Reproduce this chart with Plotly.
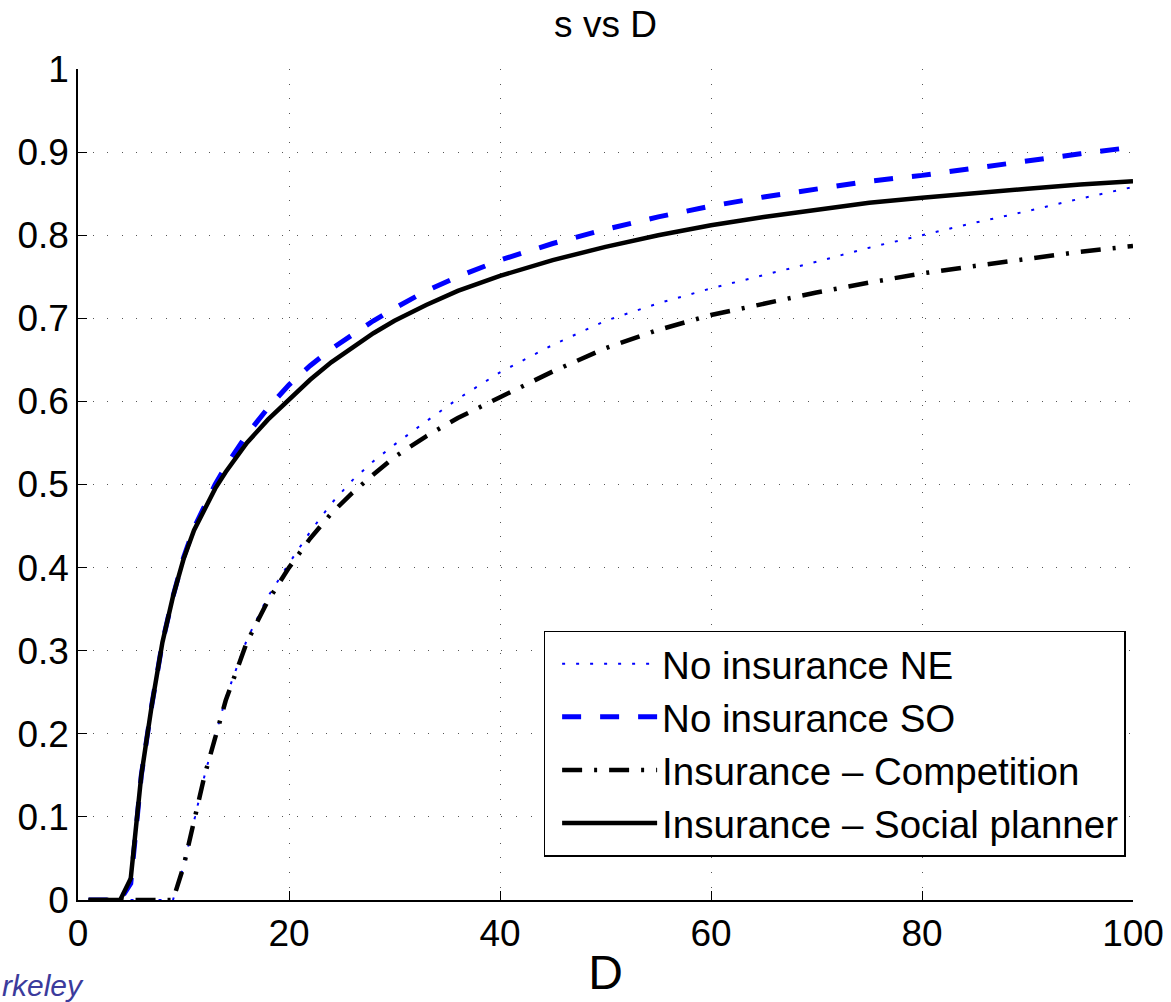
import plotly.graph_objects as go

# ---- data ----
D = [1, 2, 3, 4, 5, 6, 7, 8, 9, 10, 11, 12, 13, 14, 16, 18, 20, 22, 24, 26, 28, 30,
     33, 36, 40, 45, 50, 55, 60, 65, 70, 75, 80, 85, 90, 95, 100]

no_ins_ne = [0, 0, 0, 0, 0, 0, 0, 0, 0, 0.04, 0.095, 0.15, 0.197, 0.243, 0.313, 0.365,
             0.405, 0.443, 0.477, 0.505, 0.528, 0.548, 0.576, 0.603, 0.635, 0.668,
             0.697, 0.718, 0.736, 0.752, 0.768, 0.785, 0.800, 0.815, 0.829, 0.844, 0.858]

no_ins_so = [0, 0, 0, 0, 0.02, 0.15, 0.235, 0.31, 0.365, 0.412, 0.448, 0.475, 0.50,
             0.522, 0.56, 0.592, 0.62, 0.643, 0.663, 0.68, 0.697, 0.712, 0.733, 0.75,
             0.77, 0.79, 0.807, 0.822, 0.835, 0.846, 0.856, 0.865, 0.872, 0.881, 0.89,
             0.898, 0.906]

ins_comp = [0, 0, 0, 0, 0, 0, 0, 0, 0, 0.04, 0.095, 0.15, 0.195, 0.24, 0.31, 0.36,
            0.40, 0.435, 0.465, 0.49, 0.512, 0.533, 0.558, 0.58, 0.605, 0.636, 0.664,
            0.686, 0.704, 0.718, 0.731, 0.743, 0.754, 0.763, 0.772, 0.78, 0.787]

ins_sp = [0, 0, 0, 0, 0.026, 0.15, 0.235, 0.31, 0.365, 0.41, 0.445, 0.47, 0.495,
          0.515, 0.55, 0.578, 0.602, 0.626, 0.647, 0.665, 0.682, 0.697, 0.716, 0.733,
          0.751, 0.770, 0.786, 0.80, 0.812, 0.822, 0.831, 0.839, 0.845, 0.851, 0.856,
          0.861, 0.865]

names = ["No insurance NE", "No insurance SO",
         "Insurance \u2013 Competition", "Insurance \u2013 Social planner"]

x_ticks = [0, 20, 40, 60, 80, 100]
y_ticks = [0, 0.1, 0.2, 0.3, 0.4, 0.5, 0.6, 0.7, 0.8, 0.9, 1]

FONT = "Liberation Sans, Arial, Helvetica, sans-serif"

fig = go.Figure()
fig.add_trace(go.Scatter(x=D, y=no_ins_ne, mode="lines", name=names[0],
                         line=dict(color="#0000ff", width=2, dash="3px,11px")))
fig.add_trace(go.Scatter(x=D, y=no_ins_so, mode="lines", name=names[1],
                         line=dict(color="#0000ff", width=5, dash="19px,19px")))
fig.add_trace(go.Scatter(x=D, y=ins_comp, mode="lines", name=names[2],
                         line=dict(color="#000000", width=4.5, dash="20px,12px,3px,12px")))
fig.add_trace(go.Scatter(x=D, y=ins_sp, mode="lines", name=names[3],
                         line=dict(color="#000000", width=4.5)))

axis_common = dict(
    showline=True, linecolor="black", linewidth=1.5,
    ticks="inside", ticklen=9, tickcolor="black", tickwidth=1,
    showgrid=True, gridcolor="#555555", gridwidth=1, griddash="1px,13.6px",
    zeroline=False, mirror=False, automargin=False,
    tickfont=dict(family=FONT, size=37, color="black"),
)

fig.update_xaxes(range=[0, 100], tickvals=x_ticks, **axis_common,
                 title=dict(text="D", font=dict(family=FONT, size=48, color="black"),
                            standoff=2))
fig.update_yaxes(range=[0, 1], tickvals=y_ticks, **axis_common)

fig.update_layout(
    width=1171, height=1002,
    margin=dict(l=78, r=38, t=69, b=102),
    paper_bgcolor="white", plot_bgcolor="white",
    title=dict(text="s vs D", x=0.5, xref="paper", y=0.976, yanchor="middle",
               font=dict(family=FONT, size=37, color="black")),
    legend=dict(x=0.993, y=0.052, xanchor="right", yanchor="bottom",
                bgcolor="white", bordercolor="black", borderwidth=1.5,
                font=dict(family=FONT, size=38.5, color="black"),
                itemwidth=95, indentation=12, traceorder="normal"),
    font=dict(family=FONT),
    annotations=[dict(text="<i>rkeley</i>", xref="paper", yref="paper",
                      x=(0 - 78) / 1055, y=(900 - 985) / 831,
                      xanchor="left", yanchor="middle", showarrow=False,
                      font=dict(family=FONT, size=30, color="#3b3b9c"))],
)

fig.write_html("out.html",
               config={"displayModeBar": False},
               post_script="document.body.style.margin='0px';"
                           "document.body.style.overflow='hidden';")
